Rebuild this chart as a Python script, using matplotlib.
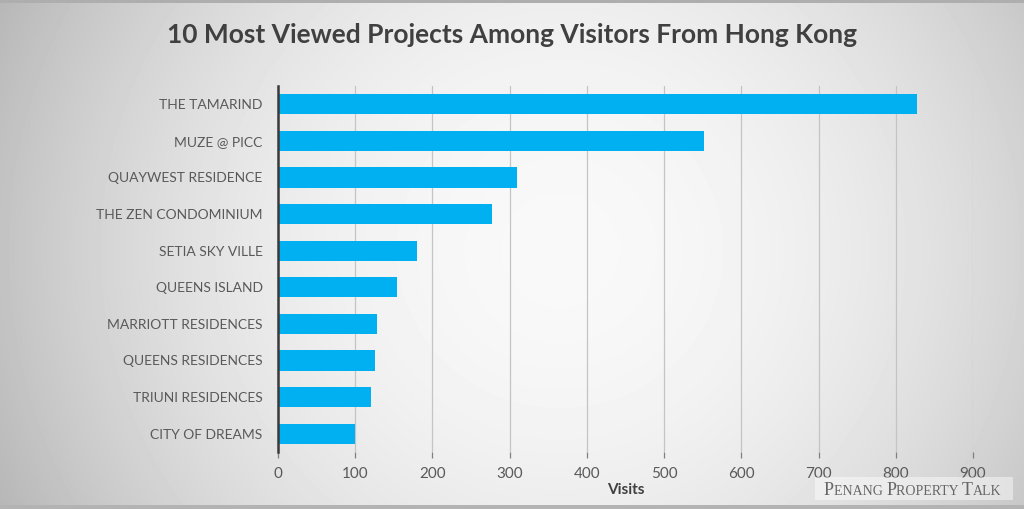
import matplotlib
matplotlib.use("Agg")
import matplotlib.pyplot as plt
import numpy as np

# => DATA
projects = ["THE TAMARIND", "MUZE @ PICC", "QUAYWEST RESIDENCE",
            "THE ZEN CONDOMINIUM", "SETIA SKY VILLE", "QUEENS ISLAND",
            "MARRIOTT RESIDENCES", "QUEENS RESIDENCES", "TRIUNI RESIDENCES",
            "CITY OF DREAMS"]
visits = [828, 552, 310, 277, 180, 154, 128, 126, 120, 100]
x_ticks = [0, 100, 200, 300, 400, 500, 600, 700, 800, 900]

W, H = 1024, 509
fig = plt.figure(figsize=(W / 100, H / 100), dpi=100)

# => BACKGROUND: soft radial grey gradient
bg = fig.add_axes([0, 0, 1, 1], zorder=0)
yy, xx = np.mgrid[0:H, 0:W]
d2 = ((xx - 560) / 620.0) ** 2 + ((yy - 250) / 600.0) ** 2
shade = np.clip(0.975 - 0.26 * d2, 0, 1)
shade[:3, :] = 0.68
shade[-4:, :] = 0.70
bg.imshow(shade, cmap="gray", vmin=0, vmax=1, aspect="auto",
          interpolation="bilinear")
bg.set_axis_off()

# => MAIN CHART
ax = fig.add_axes([278 / W, 1 - 452 / H, 695 / W, 366 / H], zorder=2)
ax.set_facecolor("none")
pos = np.arange(len(projects))
ax.barh(pos, visits, height=0.55, color="#00b0f0", zorder=3)
ax.set_ylim(len(projects) - 0.5, -0.5)
ax.set_xlim(0, 900)
ax.set_xticks(x_ticks)
ax.set_yticks(pos)
ax.set_yticklabels(projects)

for side in ["top", "right", "bottom"]:
    ax.spines[side].set_visible(False)
ax.spines["left"].set_color("#3a3a3a")
ax.spines["left"].set_linewidth(1.8)
ax.spines["left"].set_zorder(4)

ax.xaxis.grid(True, color="#c4c4c4", linewidth=0.9, zorder=1)
ax.set_axisbelow(True)
ax.tick_params(axis="x", direction="out", length=4.5, width=0.9,
               color="#808080", pad=6, labelsize=11, labelcolor="#595959")
ax.tick_params(axis="y", length=0, pad=11, labelsize=10,
               labelcolor="#595959")
for lab in ax.get_xticklabels() + ax.get_yticklabels():
    lab.set_family("Lato")

ax.set_xlabel("Visits", fontsize=11, fontweight="bold", color="#404040",
              family="Lato", labelpad=2)

fig.text(0.5, 1 - 35 / H, "10 Most Viewed Projects Among Visitors From Hong Kong",
         ha="center", va="center", fontsize=19, fontweight="bold",
         color="#404040", family="Lato")

# => WATERMARK (small caps done by hand: big first letters, smaller rest)
fig.patches.append(plt.Rectangle((815 / W, 1 - 500 / H), 198 / W, 23 / H,
                                 transform=fig.transFigure, facecolor="white",
                                 alpha=0.45, edgecolor="none", zorder=5))
parts = [("P", 13), ("ENANG ", 10), ("P", 13), ("ROPERTY ", 10),
         ("T", 13), ("ALK", 10)]
marks = [fig.text(0, 1 - 495 / H, txt, fontsize=size, family="Liberation Serif",
                  color="#666666", va="baseline", zorder=6)
         for txt, size in parts]

# -> place the pieces side by side using the renderer
fig.canvas.draw()
renderer = fig.canvas.get_renderer()
x0 = 824.0
for t in marks:
    t.set_x(x0 / W)
    x0 += t.get_window_extent(renderer).width

fig.savefig("out.png", dpi=100)
